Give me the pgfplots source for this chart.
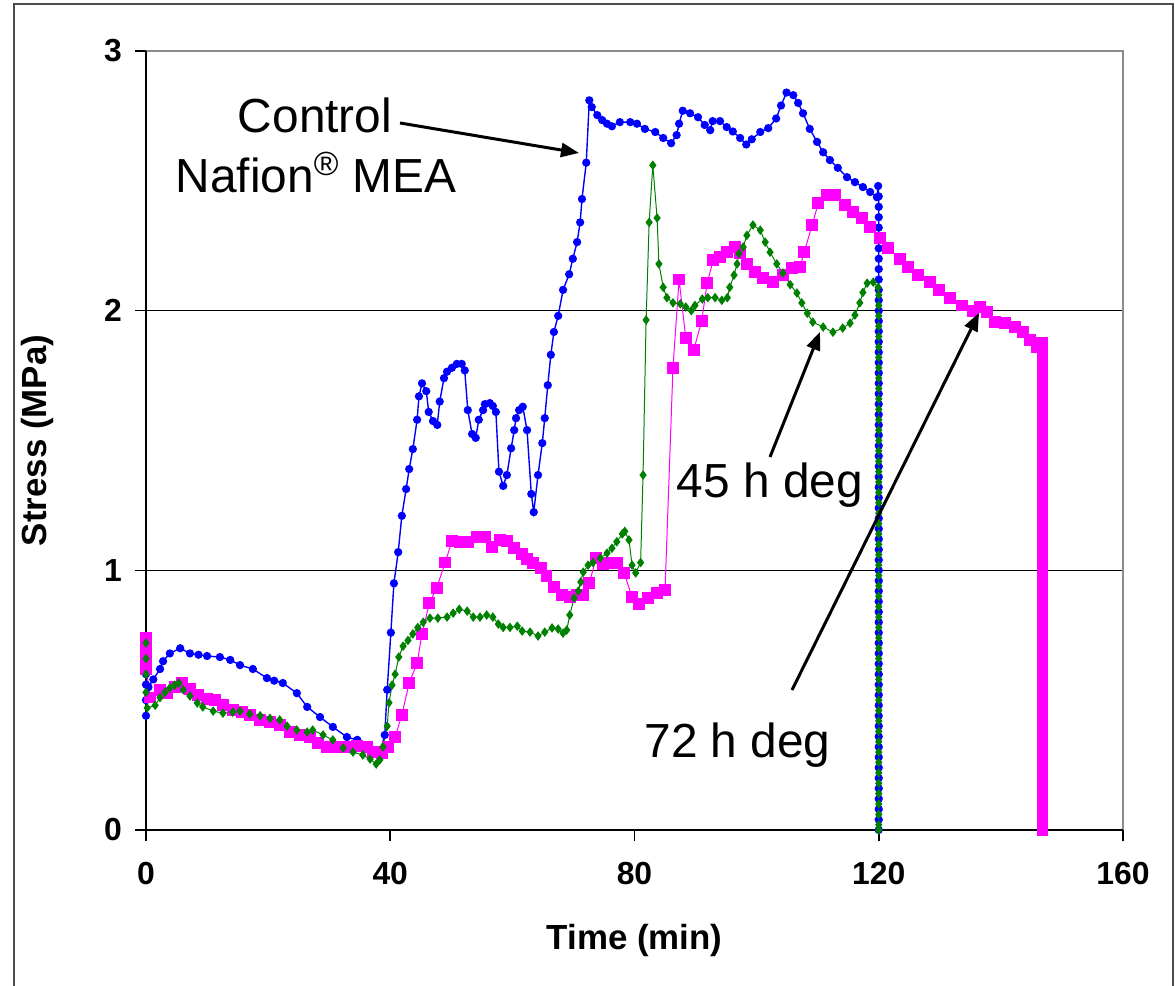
\documentclass[border=0pt]{standalone}
\usepackage{fontspec}
\setmainfont{Liberation Sans}
\usepackage{pgfplots}
\pgfplotsset{compat=1.18}
\usetikzlibrary{arrows.meta}
\definecolor{cblue}{RGB}{0,0,255}
\definecolor{cgreen}{RGB}{0,128,0}
\definecolor{cpink}{RGB}{255,0,255}
\begin{document}
\begin{tikzpicture}
\path[use as bounding box] (-73bp,-78bp) rectangle (514.5bp,415bp);
\draw[line width=1bp, black!70] (-66bp,-95bp) rectangle (513.5bp,413bp);
\begin{axis}[
 at={(0,0)}, anchor=south west,
 scale only axis, width=488.5bp, height=389.5bp,
 xmin=0, xmax=160, ymin=0, ymax=3,
 xtick={0,40,80,120,160}, ytick={0,1,2,3},
 tick align=outside, xtick pos=left, ytick pos=left,
 major tick length=5.5bp,
 tick style={black, line width=0.75bp},
 axis line style={draw=none},
 ymajorgrids, grid style={black, line width=0.6bp},
 /pgf/number format/assume math mode=true,
 ticklabel style={font=\bfseries\fontsize{16}{18}\selectfont},
 xticklabel style={yshift=-7bp},
 yticklabel style={xshift=-3bp},
 clip=false,
]
\addplot[cblue, line width=0.7bp, mark=*, mark size=1.7bp] coordinates {
(0,0.44)(0,0.50)(0,0.56)(0,0.60)(0.4,0.55)(1.2,0.58)(2.3,0.62)(2.8,0.65)(3.9,0.68)(5.6,0.70)
(7.2,0.68)(8.6,0.675)(10.0,0.67)(12.1,0.666)(13.8,0.655)(15.4,0.635)(17.5,0.62)(19.8,0.585)(21.0,0.575)(22.4,0.566)
(24.7,0.527)(26.4,0.474)(28.5,0.435)(30.6,0.397)(32.9,0.358)(34.6,0.347)(36.7,0.316)(38.3,0.296)(39.1,0.366)(39.5,0.54)
(40.1,0.76)(40.6,0.95)(41.3,1.07)(41.9,1.21)(42.6,1.313)(43.1,1.39)(43.7,1.467)(44.4,1.58)(44.7,1.67)(45.2,1.72)
(45.9,1.69)(46.3,1.61)(47.0,1.575)(47.7,1.56)(48.1,1.65)(48.8,1.74)(49.3,1.765)(50.1,1.78)(50.9,1.795)(51.7,1.795)
(52.2,1.77)(52.7,1.617)(53.4,1.525)(54.0,1.51)(54.5,1.58)(55.2,1.617)(55.5,1.64)(56.3,1.644)(56.8,1.633)(57.3,1.61)
(57.8,1.38)(58.5,1.325)(59.1,1.367)(59.8,1.47)(60.3,1.54)(60.6,1.586)(61.1,1.617)(61.7,1.63)(62.4,1.54)(63.1,1.294)
(63.5,1.224)(64.2,1.367)(64.9,1.49)(65.3,1.586)(65.8,1.713)(66.3,1.83)(66.8,1.918)(67.5,1.98)(68.3,2.08)(69.3,2.14)
(69.9,2.20)(70.6,2.264)(71.1,2.34)(71.4,2.43)(72.1,2.57)(72.6,2.81)(73.0,2.784)(73.9,2.753)(74.7,2.734)(75.5,2.72)
(76.3,2.71)(77.6,2.726)(79.3,2.726)(80.4,2.72)(81.7,2.70)(83.4,2.688)(84.7,2.665)(86.0,2.645)(86.9,2.676)(87.3,2.72)
(87.9,2.77)(89.1,2.76)(90.4,2.745)(91.5,2.715)(92.4,2.695)(92.8,2.73)(94.0,2.73)(95.1,2.707)(96.1,2.69)(97.3,2.665)
(98.3,2.64)(99.2,2.66)(100.6,2.688)(101.9,2.703)(103.2,2.74)(104.0,2.79)(104.9,2.84)(106.0,2.83)(106.8,2.80)(107.6,2.76)
(108.7,2.70)(109.9,2.65)(110.9,2.61)(112.0,2.58)(113.3,2.55)(114.8,2.514)(116.1,2.495)(117.4,2.476)(118.6,2.457)(119.7,2.437)
(119.9,2.48)
(120,2.44)(120,2.40)(120,2.36)(120,2.32)(120,2.28)(120,2.24)(120,2.20)(120,2.16)(120,2.12)(120,2.08)
(120,2.04)(120,2.00)(120,1.96)(120,1.92)(120,1.88)(120,1.84)(120,1.80)(120,1.76)(120,1.72)(120,1.68)
(120,1.64)(120,1.60)(120,1.56)(120,1.52)(120,1.48)(120,1.44)(120,1.40)(120,1.36)(120,1.32)(120,1.28)
(120,1.24)(120,1.20)(120,1.16)(120,1.12)(120,1.08)(120,1.04)(120,1.00)(120,0.96)(120,0.92)(120,0.88)
(120,0.84)(120,0.80)(120,0.76)(120,0.72)(120,0.68)(120,0.64)(120,0.60)(120,0.56)(120,0.52)(120,0.48)
(120,0.44)(120,0.40)(120,0.36)(120,0.32)(120,0.28)(120,0.24)(120,0.20)(120,0.16)(120,0.12)(120,0.08)
(120,0.04)(120,0.00)
};
\addplot[cpink, line width=0.5bp, mark=square*, mark size=2.7bp] coordinates {
(0,0.74)(0,0.70)(0,0.66)(0,0.62)(0.7,0.51)(2.3,0.54)(3.4,0.527)(4.7,0.55)(5.9,0.566)(7.2,0.543)
(8.5,0.52)(10.0,0.504)(11.3,0.50)(12.6,0.48)(14.2,0.462)(15.7,0.454)(17.0,0.443)(18.7,0.424)(20.3,0.416)(21.9,0.404)
(23.6,0.377)(25.2,0.366)(26.9,0.358)(28.2,0.335)(29.6,0.32)(31.3,0.32)(32.9,0.32)(34.6,0.323)(36.2,0.32)(37.2,0.30)
(38.0,0.30)(38.7,0.296)(39.6,0.32)(40.8,0.358)(41.9,0.443)(43.1,0.566)(44.4,0.643)(45.2,0.755)(46.4,0.874)(47.6,0.932)
(49.0,1.03)(50.1,1.113)(51.4,1.11)(52.7,1.11)(54.2,1.128)(55.5,1.128)(56.6,1.09)(58.0,1.117)(59.1,1.113)(60.3,1.086)
(61.6,1.063)(62.4,1.044)(63.4,1.028)(64.7,1.009)(65.6,0.978)(66.8,0.936)(68.1,0.905)(69.4,0.897)(70.6,0.905)(71.6,0.905)
(72.6,0.95)(73.7,1.047)(74.8,1.024)(76.0,1.028)(77.1,1.028)(78.3,0.99)(79.6,0.897)(80.7,0.87)(82.2,0.893)(83.7,0.912)
(85.0,0.924)(86.3,1.78)(87.3,2.12)(88.4,1.895)(89.7,1.848)(91.0,1.96)(91.9,2.106)(92.9,2.195)(94.0,2.206)(95.1,2.225)
(96.5,2.245)(97.3,2.222)(98.4,2.18)(99.7,2.149)(101.1,2.125)(102.7,2.11)(104.3,2.137)(105.8,2.164)(107.1,2.168)(107.8,2.226)
(109.1,2.33)(110.1,2.414)(111.5,2.445)(112.8,2.445)(114.5,2.407)(115.8,2.38)(117.3,2.357)(118.6,2.322)(120.2,2.28)(121.5,2.24)
(123.5,2.20)(124.8,2.168)(126.4,2.137)(128.4,2.11)(129.9,2.08)(131.7,2.05)(133.6,2.02)(135.4,2.00)(136.6,2.014)(137.7,1.995)
(139.0,1.956)(140.7,1.952)(142.3,1.937)(143.6,1.917)(144.8,1.887)(145.9,1.86)(146.7,1.875)
(146.8,1.84)(146.8,1.80)(146.8,1.76)(146.8,1.72)(146.8,1.68)(146.8,1.64)(146.8,1.60)(146.8,1.56)(146.8,1.52)(146.8,1.48)
(146.8,1.44)(146.8,1.40)(146.8,1.36)(146.8,1.32)(146.8,1.28)(146.8,1.24)(146.8,1.20)(146.8,1.16)(146.8,1.12)(146.8,1.08)
(146.8,1.04)(146.8,1.00)(146.8,0.96)(146.8,0.92)(146.8,0.88)(146.8,0.84)(146.8,0.80)(146.8,0.76)(146.8,0.72)(146.8,0.68)
(146.8,0.64)(146.8,0.60)(146.8,0.56)(146.8,0.52)(146.8,0.48)(146.8,0.44)(146.8,0.40)(146.8,0.36)(146.8,0.32)(146.8,0.28)
(146.8,0.24)(146.8,0.20)(146.8,0.16)(146.8,0.12)(146.8,0.08)(146.8,0.04)(146.8,0.00)
};
\addplot[cgreen, line width=0.5bp, mark=diamond*, mark size=2.0bp] coordinates {
(0,0.72)(0,0.66)(0,0.60)(0,0.53)(0.2,0.47)(1.5,0.48)(2.3,0.51)(3.1,0.53)(3.9,0.547)(4.7,0.558)
(5.4,0.566)(6.1,0.54)(7.2,0.516)(8.4,0.489)(9.3,0.474)(11.0,0.458)(12.6,0.45)(14.2,0.454)(15.4,0.458)(17.0,0.447)
(18.7,0.44)(20.3,0.43)(21.9,0.424)(23.1,0.40)(24.7,0.385)(26.4,0.377)(27.3,0.385)(29.0,0.366)(30.6,0.347)(32.3,0.316)
(33.9,0.30)(35.5,0.289)(36.7,0.273)(37.7,0.254)(38.3,0.27)(38.8,0.32)(39.5,0.40)(39.8,0.49)(40.3,0.558)(40.8,0.60)
(41.4,0.666)(42.1,0.708)(42.9,0.73)(43.7,0.755)(44.5,0.78)(45.4,0.80)(46.5,0.816)(47.8,0.816)(49.3,0.82)(50.3,0.835)
(51.3,0.85)(52.6,0.843)(53.6,0.82)(54.7,0.82)(55.8,0.828)(56.8,0.82)(57.7,0.793)(58.5,0.78)(59.6,0.78)(60.8,0.785)
(61.6,0.766)(62.9,0.762)(64.2,0.747)(65.3,0.762)(66.5,0.778)(67.5,0.774)(68.3,0.758)(68.9,0.77)(69.4,0.828)(70.1,0.893)
(70.8,0.92)(71.2,0.955)(71.6,0.993)(72.4,1.02)(73.2,1.03)(74.4,1.047)(75.5,1.066)(76.3,1.085)(77.1,1.11)(78.0,1.14)
(78.4,1.15)(79.1,1.117)(79.6,1.02)(80.2,0.99)(81.0,1.03)(81.4,1.367)(81.9,1.964)(82.4,2.34)(83.0,2.56)(83.7,2.357)
(84.0,2.18)(84.7,2.09)(85.3,2.05)(86.3,2.03)(87.5,2.026)(88.4,2.014)(89.3,2.0)(89.9,2.02)(91.1,2.045)(92.0,2.05)
(93.2,2.05)(94.3,2.04)(95.2,2.05)(95.6,2.09)(96.3,2.137)(96.8,2.18)(97.1,2.22)(97.8,2.245)(98.4,2.29)(99.4,2.33)
(100.6,2.31)(101.4,2.264)(102.2,2.225)(103.3,2.18)(104.3,2.145)(105.5,2.10)(106.6,2.068)(107.4,2.03)(108.3,1.99)(109.2,1.956)
(110.9,1.937)(112.5,1.917)(114.1,1.933)(115.3,1.952)(116.1,1.983)(116.9,2.03)(117.4,2.07)(118.1,2.106)(119.1,2.11)(119.9,2.09)
(120,2.06)(120,2.02)(120,1.98)(120,1.94)(120,1.90)(120,1.86)(120,1.82)(120,1.78)(120,1.74)(120,1.70)
(120,1.66)(120,1.62)(120,1.58)(120,1.54)(120,1.50)(120,1.46)(120,1.42)(120,1.38)(120,1.34)(120,1.30)
(120,1.26)(120,1.22)(120,1.18)(120,1.14)(120,1.10)(120,1.06)(120,1.02)(120,0.98)(120,0.94)(120,0.90)
(120,0.86)(120,0.82)(120,0.78)(120,0.74)(120,0.70)(120,0.66)(120,0.62)(120,0.58)(120,0.54)(120,0.50)
(120,0.46)(120,0.42)(120,0.38)(120,0.34)(120,0.30)(120,0.26)(120,0.22)(120,0.18)(120,0.14)(120,0.10)
(120,0.06)(120,0.02)(120,0.00)
};
\draw[black!45, line width=0.75bp] (rel axis cs:0,1) -- (rel axis cs:1,1) -- (rel axis cs:1,0);
\draw[black, line width=0.75bp] (rel axis cs:0,1) -- (rel axis cs:0,0) -- (rel axis cs:1,0);
\end{axis}
\node[font=\bfseries\fontsize{17.5}{20}\selectfont] at (244.25bp,-55bp) {Time (min)};
\node[font=\bfseries\fontsize{17.5}{20}\selectfont, rotate=90] at (-54.5bp,194.75bp) {Stress (MPa)};
\node[font=\fontsize{24}{28}\selectfont, anchor=base] at (84.5bp,348.5bp) {Control};
\node[font=\fontsize{24}{28}\selectfont, anchor=base] at (85bp,318.5bp) {Nafion\textsuperscript{\textregistered} MEA};
\node[font=\fontsize{24}{28}\selectfont, anchor=base] at (312bp,166bp) {45 h deg};
\node[font=\fontsize{24}{28}\selectfont, anchor=base] at (295.75bp,36.5bp) {72 h deg};
\draw[line width=1.5bp, -{Triangle[length=9bp,width=7bp]}] (127bp,353.5bp) -- (216.5bp,338.5bp);
\draw[line width=1.5bp, -{Triangle[length=9bp,width=7bp]}] (312bp,186.5bp) -- (337bp,249bp);
\draw[line width=1.5bp, -{Triangle[length=9bp,width=7bp]}] (323bp,70bp) -- (416.5bp,258.5bp);
\node[text=blue!50!black, font=\fontsize{12}{14}\selectfont, anchor=east] at (-71bp,-39bp) {e};
\end{tikzpicture}
\end{document}
